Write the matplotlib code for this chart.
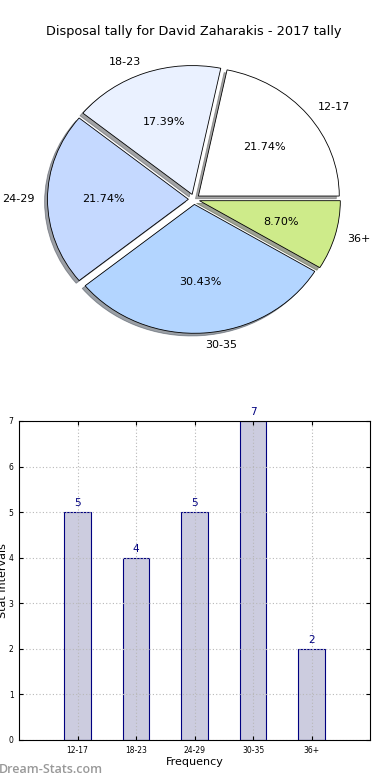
import matplotlib
matplotlib.use('Agg')
import matplotlib.pyplot as plt
import numpy as np

# age groups and disposal counts
groups = ['12-17', '18-23', '24-29', '30-35', '36+']
counts = [5, 4, 5, 7, 2]
pie_colors = ['#ffffff', '#eaf1ff', '#c5d9ff', '#b3d5ff', '#ceeb8a']
title = 'Disposal tally for David Zaharakis - 2017 tally'

fig = plt.figure(figsize=(3.9, 7.8), dpi=100)

# pie chart
ax1 = fig.add_axes([0.046, 0.538, 0.903, 0.413])
wedges, texts, autotexts = ax1.pie(counts, labels=groups, colors=pie_colors,
                                   explode=[0.04] * len(counts), autopct='%1.2f%%',
                                   shadow={'ox': -0.015, 'oy': -0.015},
                                   startangle=0, counterclock=True,
                                   labeldistance=1.09, pctdistance=0.6,
                                   wedgeprops={'edgecolor': 'black', 'linewidth': 0.6},
                                   textprops={'fontsize': 8})
ax1.set_aspect('auto')
ax1.set_xlim(-1.25, 1.25)
ax1.set_ylim(-1.25, 1.25)
ax1.set_title(title, fontsize=9.3, pad=2)

# bar chart
ax2 = fig.add_axes([0.049, 0.0513, 0.9, 0.409])
x = np.arange(1, len(groups) + 1)
bars = ax2.bar(x, counts, width=0.45, color='#ccccdf', edgecolor='navy', linewidth=0.8)
for xi, c in zip(x, counts):
    ax2.text(xi, c + 0.08, str(c), ha='center', va='bottom', color='navy', fontsize=7.5)
ax2.set_xlim(0, 6)
ax2.set_ylim(0, 7)
ax2.set_xticks(x)
ax2.set_xticklabels(groups)
ax2.set_yticks(range(0, 8))
ax2.tick_params(labelsize=5.5, direction='in', top=True, right=True, length=3, pad=4)
ax2.grid(True, linestyle=(0, (1, 2)), color='#b8b8b8', linewidth=0.8)
ax2.set_axisbelow(False)
for sp in ax2.spines.values():
    sp.set_zorder(5)
ax2.set_xlabel('Frequency', fontsize=8, labelpad=2)
ax2.set_ylabel('Stat Intervals', fontsize=8)
ax2.yaxis.set_label_coords(-0.033, 0.5)

fig.text(-0.003, 0.005, 'Dream-Stats.com', color='#999999', fontsize=9,
         family=['Open Sans', 'DejaVu Sans'], fontweight='semibold', ha='left', va='bottom')

plt.savefig('out.png', dpi=100)
